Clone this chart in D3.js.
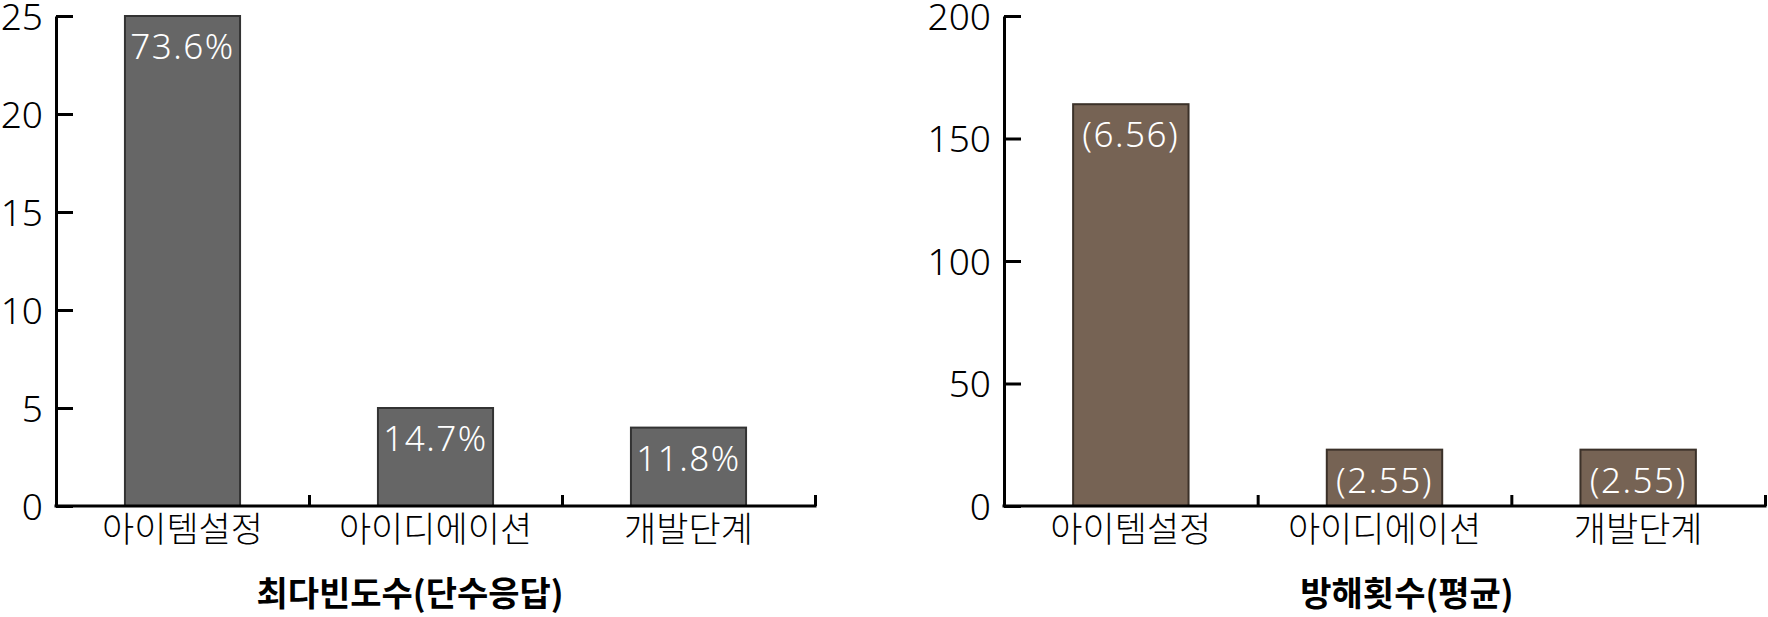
<!DOCTYPE html>
<html>
<head>
<meta charset="utf-8">
<script src="https://cdn.jsdelivr.net/npm/d3@7"></script>
<style>
  html, body { margin: 0; padding: 0; background: #fff; }
  svg { display: block; }
</style>
</head>
<body>
<div id="chart"></div>
<script>
// data
const categories = ["아이템설정", "아이디에이션", "개발단계"];

const freqValues = [25, 5, 4];
const freqLabels = ["73.6%", "14.7%", "11.8%"];
const freqTicks = [0, 5, 10, 15, 20, 25];

const countValues = [164, 23, 23];
const countLabels = ["(6.56)", "(2.55)", "(2.55)"];
const countTicks = [0, 50, 100, 150, 200];

const titles = ["최다빈도수(단수응답)", "방해횟수(평균)"];

const width = 1768, height = 617;
const numFont = "'Noto Sans', 'Open Sans', sans-serif";
const krFont = "'Noto Sans CJK KR', 'Noto Sans', sans-serif";

const svg = d3.select("#chart").append("svg")
  .attr("width", width)
  .attr("height", height);

// one panel = one little bar chart
function panel(opts) {
  const top = 16, bottom = 506;

  const x = d3.scaleBand()
    .domain(categories)
    .range([opts.left, opts.right])
    .padding(0);

  const y = d3.scaleLinear()
    .domain([0, opts.max])
    .range([bottom, top]);

  const barW = x.bandwidth() * 0.455;

  const g = svg.append("g");

  // bars
  g.selectAll("rect.bar")
    .data(opts.values)
    .enter()
    .append("rect")
    .attr("class", "bar")
    .attr("x", (d, i) => x(categories[i]) + (x.bandwidth() - barW) / 2)
    .attr("y", d => y(d))
    .attr("width", barW)
    .attr("height", d => y(0) - y(d))
    .style("fill", opts.fill)
    .style("stroke", opts.stroke)
    .style("stroke-width", 2);

  // labels inside bars
  g.selectAll("text.val")
    .data(opts.values)
    .enter()
    .append("text")
    .attr("class", "val")
    .attr("x", (d, i) => x(categories[i]) + x.bandwidth() / 2)
    .attr("y", d => y(d) + 43)
    .attr("text-anchor", "middle")
    .style("font-family", numFont)
    .style("font-weight", 300)
    .style("font-size", "35px")
    .style("letter-spacing", "1.5px")
    .style("fill", "#fff")
    .text((d, i) => opts.labels[i]);

  // y axis, ticks point inward
  const yAxis = d3.axisLeft(y)
    .tickValues(opts.ticks)
    .tickSizeInner(-17)
    .tickSizeOuter(0)
    .tickPadding(13);

  const ya = g.append("g")
    .attr("transform", `translate(${opts.left},0)`)
    .call(yAxis);
  ya.selectAll("path, line").style("stroke", "#000").style("stroke-width", 3);
  ya.selectAll("text")
    .attr("dy", "0.36em")
    .style("font-family", numFont)
    .style("font-weight", 300)
    .style("font-size", "37px")
    .style("fill", "#000");

  // x axis: line plus small upward ticks at category boundaries
  const xb = d3.scaleLinear().domain([0, categories.length]).range([opts.left, opts.right]);
  const xAxis = d3.axisTop(xb)
    .tickValues(d3.range(1, categories.length + 1))
    .tickFormat("")
    .tickSizeInner(11)
    .tickSizeOuter(0);

  const xa = g.append("g")
    .attr("transform", `translate(0,${bottom})`)
    .call(xAxis);
  xa.selectAll("line").style("stroke", "#000").style("stroke-width", 3);
  xa.select("path.domain").remove();
  xa.append("line")
    .attr("x1", opts.left - 1.5)
    .attr("x2", opts.right + 1.5)
    .style("stroke", "#000")
    .style("stroke-width", 3);

  // category names
  g.selectAll("text.cat")
    .data(categories)
    .enter()
    .append("text")
    .attr("class", "cat")
    .attr("x", d => x(d) + x.bandwidth() / 2)
    .attr("y", 542)
    .attr("text-anchor", "middle")
    .style("font-family", krFont)
    .style("font-weight", 300)
    .style("font-size", "35px")
    .style("fill", "#000")
    .text(d => d);

  // title under the chart
  g.append("text")
    .attr("x", opts.titleX)
    .attr("y", 606)
    .attr("text-anchor", "middle")
    .style("font-family", krFont)
    .style("font-weight", 700)
    .style("font-size", "34px")
    .style("fill", "#000")
    .text(opts.title);
}

panel({
  left: 56, right: 815, max: 25,
  values: freqValues, labels: freqLabels, ticks: freqTicks,
  fill: "#666666", stroke: "#333333",
  title: titles[0], titleX: 410
});

panel({
  left: 1004, right: 1765, max: 200,
  values: countValues, labels: countLabels, ticks: countTicks,
  fill: "#766354", stroke: "#3b3129",
  title: titles[1], titleX: 1407
});
</script>
</body>
</html>
